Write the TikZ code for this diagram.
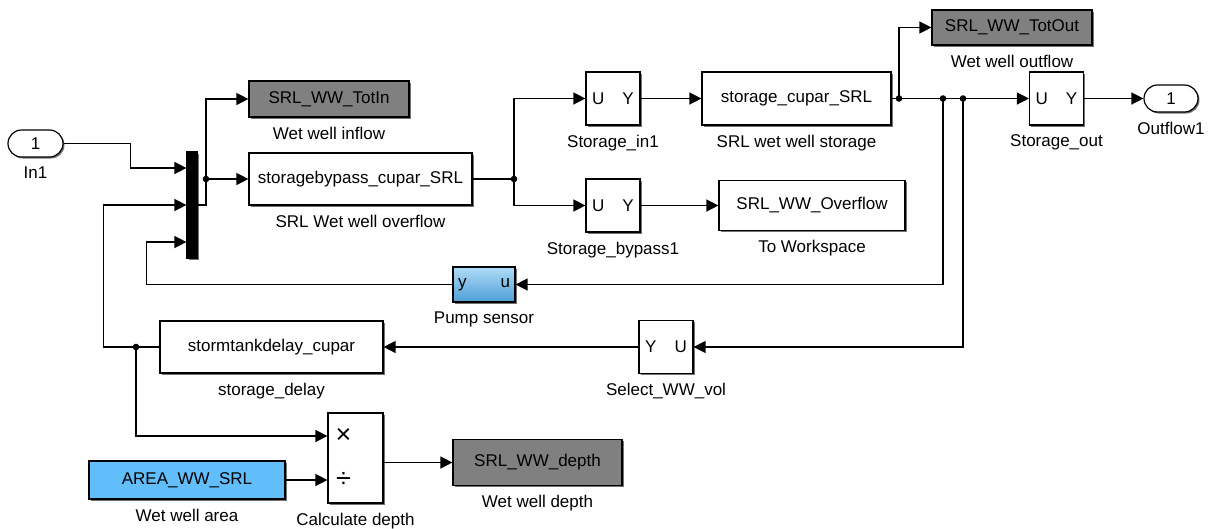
\documentclass[tikz,border=0pt]{standalone}
\usepackage{fontspec}
\setmainfont{Liberation Sans}
\usetikzlibrary{arrows.meta,shapes.misc,shadows}
\definecolor{GotoGray}{RGB}{128,128,128}
\definecolor{ConstBlue}{RGB}{97,190,250}
\definecolor{PumpTop}{RGB}{176,220,248}
\definecolor{PumpBottom}{RGB}{78,158,214}
\tikzset{
    blk/.style={draw, line width=1.2pt, fill=white, inner sep=0pt,
        drop shadow={shadow xshift=1.5pt, shadow yshift=-1.5pt, fill=black!55, opacity=1}},
    sized/.style 2 args={minimum width=#1pt, minimum height=#2pt},
    goto/.style={blk, fill=GotoGray},
    const/.style={blk, fill=ConstBlue},
    sensor/.style={blk, top color=PumpTop, bottom color=PumpBottom},
    port/.style={blk, rounded rectangle},
    busbar/.style={blk, fill=black},
    opsign/.style={inner sep=0pt, font=\fontsize{27}{27}\selectfont},
    sig/.style={line width=1.4pt},
    arr/.style={sig, -{Triangle[length=12pt,width=12pt]}},
}
\newcommand\Junction[1]{\fill (#1) circle (3.3pt);}

\begin{document}
\begin{tikzpicture}[x=1pt, y=-1pt, font=\fontsize{17}{20}\selectfont,
    label distance=9pt, every label/.style={inner sep=0pt}]
    \useasboundingbox (0,0) rectangle (1214,528);
    \node[port, sized={55}{27}, label=below:In1] (In1) at (35.5,143.5) {1};
    \node[busbar, sized={10}{106}] (Mux) at (192,205) {};
    \coordinate (MuxInA) at ([yshift=37pt]Mux.west);
    \coordinate (MuxInB) at (Mux.west);
    \coordinate (MuxInC) at ([yshift=-37pt]Mux.west);
    \node[goto, sized={160}{36}, label=below:Wet well inflow] (TotIn) at (329,99) {SRL\_WW\_TotIn};
    \node[blk, sized={223}{52}, label=below:SRL Wet well overflow] (Bypass) at (360.5,179) {storagebypass\_cupar\_SRL};
    \node[blk, sized={54}{53}, label=below:Storage\_in1] (StorIn) at (613,98.5) {U\hspace{18pt}Y};
    \node[blk, sized={54}{53}, label=below:Storage\_bypass1] (StorBypass) at (613,205.5) {U\hspace{18pt}Y};
    \node[blk, sized={189}{53}, label=below:SRL wet well storage] (Storage) at (796.5,98.5) {storage\_cupar\_SRL};
    \node[blk, sized={186}{50}, label=below:To Workspace] (Overflow) at (812,205.5) {SRL\_WW\_Overflow};
    \node[goto, sized={160}{35}, label=below:Wet well outflow] (TotOut) at (1012,27.5) {SRL\_WW\_TotOut};
    \node[blk, sized={54}{53}, label=below:Storage\_out] (StorOut) at (1056.5,98.5) {U\hspace{18pt}Y};
    \node[port, sized={54}{27}, label=below:Outflow1] (Outflow) at (1171,98.5) {1};
    \node[sensor, sized={62}{35}, label=below:Pump sensor] (Pump) at (484,284.5) {y\hspace{34pt}u};
    \node[blk, sized={54}{53}, label=below:Select\_WW\_vol] (SelVol) at (666,347) {Y\hspace{18pt}U};
    \node[blk, sized={223}{52}, label=below:storage\_delay] (Delay) at (271.5,347) {stormtankdelay\_cupar};
    \node[blk, sized={55}{90}, label=below:Calculate depth] (CalcDepth) at (355.5,458) {};
    \node[opsign] (CalcMul) at ([xshift=-12pt,yshift=22pt]CalcDepth.center) {×};
    \node[opsign] (CalcDiv) at ([xshift=-12pt,yshift=-22pt]CalcDepth.center) {÷};
    \coordinate (CalcInA) at ([yshift=22pt]CalcDepth.west);
    \coordinate (CalcInB) at ([yshift=-22pt]CalcDepth.west);
    \node[const, sized={196}{38}, label=below:Wet well area] (Area) at (187,480) {AREA\_WW\_SRL};
    \node[goto, sized={169}{46}, label=below:Wet well depth] (Depth) at (537.5,462.5) {SRL\_WW\_depth};
    \coordinate (MuxOut) at (206,179);
    \coordinate (BypassSplit) at (514,179);
    \coordinate (OutSplitA) at (899,98.5);
    \coordinate (OutSplitB) at (943,98.5);
    \coordinate (OutSplitC) at (963,98.5);
    \coordinate (DelaySplit) at (136,347);
    \draw[arr] (In1.east) -| ([xshift=-56pt]MuxInA) -- (MuxInA);
    \draw[arr] (Mux.east) -| (MuxOut) |- (TotIn.west);
    \draw[arr] (MuxOut) -- (Bypass.west);
    \draw[sig] (Bypass.east) -- (BypassSplit);
    \draw[arr] (BypassSplit) |- (StorIn.west);
    \draw[arr] (BypassSplit) |- (StorBypass.west);
    \draw[arr] (StorIn) -- (Storage);
    \draw[arr] (StorBypass) -- (Overflow);
    \draw[arr] (Storage) -- (StorOut);
    \draw[arr] (OutSplitA) |- (TotOut.west);
    \draw[arr] (StorOut) -- (Outflow);
    \draw[arr] (OutSplitB) |- (Pump.east);
    \draw[arr] (OutSplitC) |- (SelVol.east);
    \draw[arr] (Pump.west) -| ([xshift=-40pt]MuxInC) -- (MuxInC);
    \draw[arr] (SelVol) -- (Delay);
    \draw[arr] (Delay.west) -| ([xshift=-83pt]MuxInB) -- (MuxInB);
    \draw[arr] (DelaySplit) |- (CalcInA);
    \draw[arr] (Area.east) -- (CalcInB);
    \draw[arr] (CalcDepth.east |- Depth.west) -- (Depth.west);
    \Junction{MuxOut}
    \Junction{BypassSplit}
    \Junction{OutSplitA}
    \Junction{OutSplitB}
    \Junction{OutSplitC}
    \Junction{DelaySplit}
\end{tikzpicture}
\end{document}
